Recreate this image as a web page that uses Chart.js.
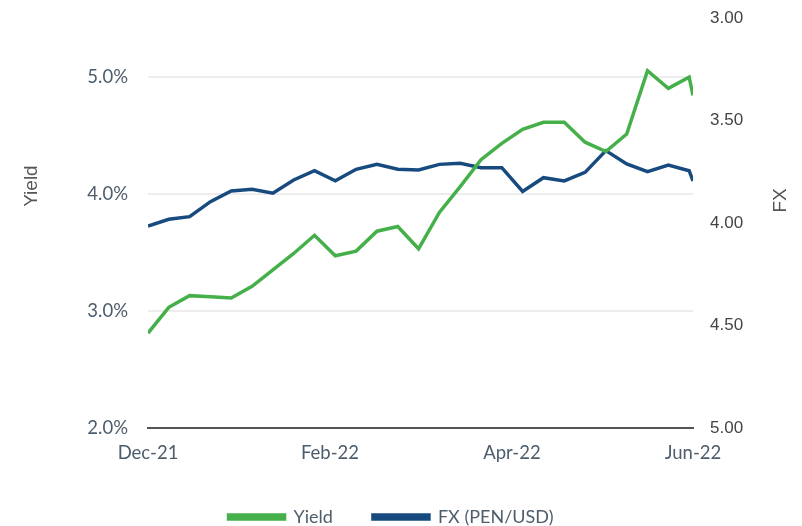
<!DOCTYPE html>
<html>
<head>
<meta charset="utf-8">
<script src="https://cdn.jsdelivr.net/npm/chart.js@4"></script>
<style>
  html, body { margin: 0; padding: 0; background: #fff; }
  #wrap { width: 802px; height: 526px; }
</style>
</head>
<body>
<div id="wrap"><canvas id="myChart" width="802" height="526"></canvas></div>
<script>
// days since 1 Dec 2021 (weekly observations, last one just after month end)
const days = [0, 7, 14, 21, 28, 35, 42, 49, 56, 63, 70, 77, 84, 91, 98, 105, 112, 119, 126, 133, 140, 147, 154, 161, 168, 175, 182, 183.3];

const yieldPct = [2.81, 3.03, 3.13, 3.12, 3.11, 3.21, 3.35, 3.49, 3.645, 3.47, 3.51, 3.68, 3.72, 3.53, 3.84, 4.06, 4.29, 4.43, 4.55, 4.61, 4.61, 4.44, 4.36, 4.51, 5.05, 4.90, 4.995, 4.84];

const fxPenUsd = [4.015, 3.982, 3.969, 3.896, 3.844, 3.836, 3.855, 3.790, 3.745, 3.794, 3.738, 3.714, 3.738, 3.741, 3.714, 3.709, 3.730, 3.730, 3.846, 3.779, 3.795, 3.753, 3.647, 3.712, 3.750, 3.717, 3.745, 3.795];

const xTickDays = [0, 61.2, 122.4, 183.3];
const xTickLabels = ['Dec-21', 'Feb-22', 'Apr-22', 'Jun-22'];
const yieldTicks = [2, 3, 4, 5];
const fxTicks = [3, 3.5, 4, 4.5, 5];

const GREEN = '#45b04a';
const BLUE = '#174a7e';
const SLATE = '#4d5d6c';

// axis titles, drawn a little above the middle of the plot like the original
const axisTitles = {
  id: 'axisTitles',
  afterDraw(chart) {
    const { ctx, chartArea: a } = chart;
    const h = a.bottom - a.top;
    ctx.save();
    ctx.font = '19px "Liberation Sans"';
    ctx.fillStyle = '#555';
    ctx.textAlign = 'center';
    ctx.textBaseline = 'middle';
    [['Yield', 32, a.top + h * 0.41], ['FX', 781, a.top + h * 0.445]].forEach(([t, x, y]) => {
      ctx.save();
      ctx.translate(x, y);
      ctx.rotate(-Math.PI / 2);
      ctx.fillText(t, 0, 0);
      ctx.restore();
    });
    ctx.restore();
  }
};

// fixed side-axis widths; drop the label overhang so the plot can start near the top
const fitSide = w => s => { s.width = w; s.paddingTop = 0; s.paddingBottom = 0; };

const ctx = document.getElementById('myChart').getContext('2d');
new Chart(ctx, {
  type: 'line',
  data: {
    datasets: [
      {
        label: 'Yield',
        data: days.map((d, i) => ({ x: d, y: yieldPct[i] })),
        yAxisID: 'y',
        borderColor: GREEN, backgroundColor: GREEN,
        borderWidth: 3.5, pointRadius: 0, tension: 0
      },
      {
        label: 'FX (PEN/USD)',
        data: days.map((d, i) => ({ x: d, y: fxPenUsd[i] })),
        yAxisID: 'y1',
        borderColor: BLUE, backgroundColor: BLUE,
        borderWidth: 3.5, pointRadius: 0, tension: 0
      }
    ]
  },
  plugins: [axisTitles],
  options: {
    responsive: false,
    animation: false,
    layout: { padding: { top: 18, left: 0, right: 20, bottom: -10 } },
    plugins: {
      tooltip: { enabled: false },
      legend: {
        position: 'bottom',
        labels: {
          boxWidth: 56, boxHeight: 4,
          color: SLATE,
          font: { family: 'Lato', size: 18 },
          padding: 40
        }
      }
    },
    scales: {
      x: {
        type: 'linear',
        min: 0, max: 183.3,
        afterBuildTicks: s => { s.ticks = xTickDays.map(v => ({ value: v })); },
        afterFit: s => { s.height = 40; },
        grid: { display: false, drawTicks: false },
        border: { display: true, color: '#555', width: 2 },
        ticks: {
          autoSkip: false, maxRotation: 0, padding: 14,
          color: SLATE, font: { family: 'Lato', size: 18.5 },
          callback: (v, i) => xTickLabels[i]
        }
      },
      y: {
        position: 'left',
        min: 2, max: 5.5,
        afterBuildTicks: s => { s.ticks = yieldTicks.map(v => ({ value: v })); },
        afterFit: fitSide(148),
        grid: { color: '#ededed', lineWidth: 2, drawTicks: false },
        border: { display: false },
        ticks: {
          padding: 20, color: SLATE, font: { family: 'Lato', size: 18.5 },
          callback: v => v.toFixed(1) + '%'
        }
      },
      y1: {
        position: 'right',
        min: 3, max: 5, reverse: true,
        afterBuildTicks: s => { s.ticks = fxTicks.map(v => ({ value: v })); },
        afterFit: fitSide(89),
        grid: { display: false, drawTicks: false },
        border: { display: false },
        ticks: {
          padding: 17, color: '#444', font: { family: 'Liberation Sans', size: 17 },
          callback: v => v.toFixed(2)
        }
      }
    }
  }
});
</script>
</body>
</html>
